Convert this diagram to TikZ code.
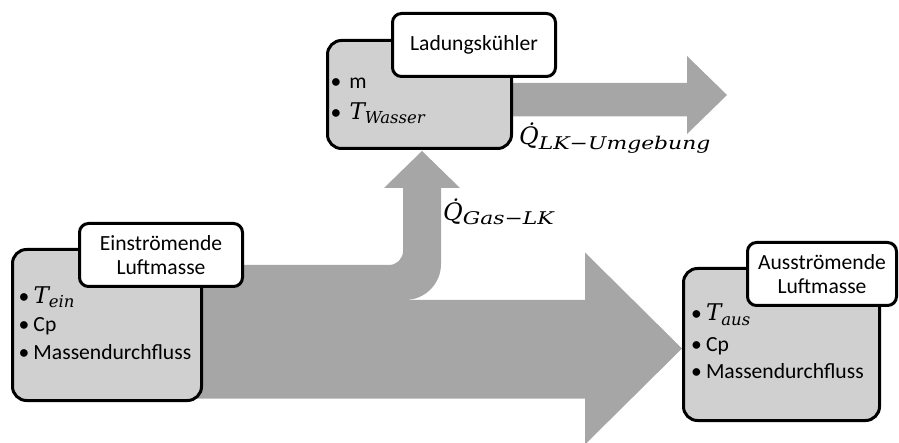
\documentclass[tikz,border=0pt]{standalone}
\usepackage{fontspec}
\setmainfont{Carlito}
\newfontfamily\mfont{DejaVu Serif}
\newfontfamily\mfontwide{DejaVu Serif}[FakeStretch=1.25]

\definecolor{boxgray}{HTML}{D0D0D0}
\definecolor{flowgray}{HTML}{A6A6A6}

\newcommand\bodyfont{\fontsize{21.6}{24}\selectfont}
% bullet item: bullet in a box of given width, then the entry
\newcommand\itm[2]{\makebox[#1][l]{\textbullet}#2}
% italic quantity with a lowered index
\newcommand\qsym[2]{{\fontsize{23}{27}\selectfont\mfont\itshape #1\raisebox{-4.5pt}{\fontsize{16.5}{16.5}\selectfont #2}}}
% heat flow symbol Q-dot with index
\newcommand\qdot[1]{{\fontsize{24}{28}\selectfont\mfont\itshape \.{Q}\raisebox{-4.3pt}{\fontsize{17.5}{17.5}\selectfont\mfontwide\itshape #1}}}

\tikzset{
  databox/.style={draw=black, line width=3pt, fill=boxgray, rounded corners=14pt, inner sep=0pt},
  titlebox/.style={draw=black, line width=3pt, fill=white, rounded corners=9pt,
                   align=center, font=\bodyfont, inner sep=0pt},
  flow/.style={fill=flowgray, draw=none},
  item/.style={anchor=base west, inner sep=0pt, font=\bodyfont},
  flowlabel/.style={anchor=base west, inner sep=0pt}
}

\begin{document}
\begin{tikzpicture}[x=1pt,y=-1pt]
\useasboundingbox (0,0) rectangle (899,443);

% main air flow towards the outlet
\path[flow] (190,300) -- (585,300) -- (585,252.5) -- (682,348.5) -- (585,444.5)
  -- (585,398.5) -- (190,398.5) -- cycle;
% branch turning up into the charge cooler
\path[flow] (190,265) -- (389,265) arc[start angle=90, end angle=0, radius=14]
  -- (403,188) -- (384,188) -- (422,151) -- (460,188) -- (441,188)
  -- (441,264) arc[start angle=0, end angle=90, radius=36]
  -- (405,304) -- (190,304) -- cycle;
% heat released by the cooler
\path[flow] (500,83) -- (687,83) -- (687,56) -- (727,95) -- (687,134)
  -- (687,116.5) -- (500,116.5) -- cycle;

% inlet air
\node[databox, minimum width=189pt, minimum height=151pt] (ein) at (107,325) {};
\node[titlebox, minimum width=163pt, minimum height=63pt] (einT) at (161,255) {Einströmende\\Luftmasse};
\node[item] (ein1) at (18.5,303.3) {\itm{14.8pt}{\qsym{T}{ein}}};
\node[item] (ein2) at (18.5,332) {\itm{14.8pt}{Cp}};
\node[item] (ein3) at (18.5,359.5) {\itm{14.8pt}{Massendurchfluss}};

% charge cooler
\node[databox, minimum width=184pt, minimum height=108pt] (lk) at (419.5,94.5) {};
\node[titlebox, minimum width=163pt, minimum height=63pt] (lkT) at (474,45) {Ladungskühler};
\node[item] (lk1) at (330.5,88.3) {\itm{18.8pt}{m}};
\node[item] (lk2) at (330.5,119.3) {\itm{18.8pt}{\qsym{T}{Wasser}}};

% outlet air
\node[databox, minimum width=196pt, minimum height=152pt] (aus) at (781.5,344.5) {};
\node[titlebox, minimum width=149pt, minimum height=63pt] (ausT) at (822,274) {Ausströmende\\Luftmasse};
\node[item] (aus1) at (691,321) {\itm{14.8pt}{\qsym{T}{aus}}};
\node[item] (aus2) at (691,351.7) {\itm{14.8pt}{Cp}};
\node[item] (aus3) at (691,378.5) {\itm{14.8pt}{Massendurchfluss}};

% heat flow labels
\node[flowlabel] (qlk) at (519,145) {\qdot{LK−Umgebung}};
\node[flowlabel] (qgas) at (443,220.5) {\qdot{Gas−LK}};
\end{tikzpicture}
\end{document}
